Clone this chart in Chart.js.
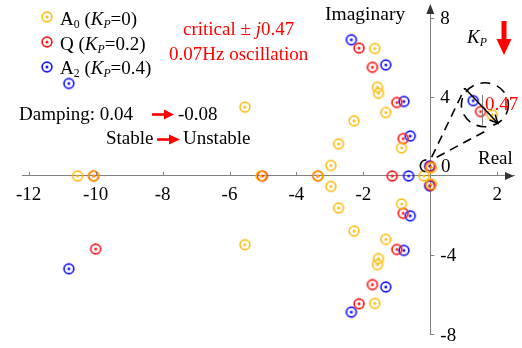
<!DOCTYPE html>
<html><head><meta charset="utf-8">
<script src="https://cdn.jsdelivr.net/npm/chart.js@4.4.0/dist/chart.umd.min.js"></script>
<style>
html,body{margin:0;padding:0;background:#fff;overflow:hidden;}
#wrap{position:relative;width:522px;height:348px;overflow:hidden;font-family:"Liberation Serif","Times New Roman",serif;}
#c{position:absolute;left:0;top:0;}
.t{position:absolute;font-size:19px;line-height:19px;white-space:nowrap;color:#000;}
.r{color:#ff0000;}
.sub{font-size:0.62em;position:relative;top:0.28em;}
svg{position:absolute;left:0;top:0;}
.mk{position:absolute;}
</style></head><body>
<div id="wrap">
<canvas id="c" width="522" height="348"></canvas>
<svg width="522" height="348">
  <line x1="152" y1="114.5" x2="166" y2="114.5" stroke="#ff0000" stroke-width="2.6"/>
  <polygon points="164,109.5 174,114.5 164,119.5" fill="#ff0000"/>
  <line x1="157" y1="139.5" x2="171" y2="139.5" stroke="#ff0000" stroke-width="2.6"/>
  <polygon points="169,134.5 180,139.5 169,144.5" fill="#ff0000"/>
  <rect x="501.5" y="21" width="5" height="20" fill="#ff0000"/>
  <polygon points="496.5,39 511.5,39 504,55" fill="#ff0000"/>
</svg>
<div class="t" style="left:60px;top:9px">A<span class="sub">0</span> (<i>K<span class="sub">P</span></i>=0)</div>
<div class="t" style="left:60px;top:34px">Q (<i>K<span class="sub">P</span></i>=0.2)</div>
<div class="t" style="left:60px;top:58px">A<span class="sub">2</span> (<i>K<span class="sub">P</span></i>=0.4)</div>
<div class="t r" style="left:183px;top:19px">critical ± <i>j</i>0.47</div>
<div class="t r" style="left:169px;top:44px">0.07Hz oscillation</div>
<div class="t" style="left:325px;top:3.5px;font-size:19.5px">Imaginary</div>
<div class="t" style="left:467px;top:27px"><i>K<span class="sub">P</span></i></div>
<div class="t" style="left:19px;top:103.5px">Damping: 0.04</div>
<div class="t" style="left:178px;top:103.5px">-0.08</div>
<div class="t" style="left:106px;top:128px">Stable</div>
<div class="t" style="left:183px;top:128px">Unstable</div>
<div class="t" style="left:478px;top:148px">Real</div>
<div class="t" style="left:441px;top:156px">0</div>
<div class="t r" style="left:485px;top:93.5px">0.47</div>
</div>
<script>
// ---- data (real / imaginary parts of eigenvalues) ----
const A0_re = [-1.66,-1.66,-1.58,-1.58,-1.55,-1.55,-1.33,-1.33,-2.28,-2.28,-2.74,-2.74,-0.86,-0.86,-2.97,-2.97,-5.54,-5.54,0.03,0.03,-10.54,-10.06,-5.06,-3.36,-0.19];
const A0_im = [6.45,-6.45,4.49,-4.49,4.18,-4.18,3.21,-3.21,2.79,-2.79,1.62,-1.62,1.42,-1.42,0.53,-0.53,3.48,-3.48,0.42,-0.42,0,0,0,0,0];
const Q_re  = [-2.13,-2.13,-1.73,-1.73,-1.00,-1.00,-0.81,-0.81,0.00,0.00,-10.0,-1.14,-5.02,-10.06,-3.36];
const Q_im  = [6.47,-6.47,5.50,-5.50,3.72,-3.72,1.89,-1.89,0.47,-0.47,-3.70,0,0,0,0];
const A2_re = [-2.36,-2.36,-1.33,-1.33,-0.79,-0.79,-0.60,-0.60,-0.02,-0.02,-10.8,-10.8,-0.65];
const A2_im = [6.89,-6.89,5.62,-5.62,3.77,-3.77,2.02,-2.02,0.50,-0.50,4.68,-4.70,0];
// magnified view of the critical pole (inset)
const insetA0 = [1.85, 3.09];
const insetQ  = [1.50, 3.26];
const insetA2 = [1.28, 3.81];
// ticks
const xTicks = [-12,-10,-8,-6,-4,-2,2];
const xTickLabels = ['-12','-10','-8','-6','-4','-2','2'];
const yTicks = [8,4,-4,-8];
const yTickLabels = ['8','4','-4','-8'];

const cA0 = 'rgba(255,184,0,0.9)', cQ = '#ff1a1a', cA2 = '#1a1aff';
function mk(color){
  const c=document.createElement('canvas'); c.width=c.height=14;
  const g=c.getContext('2d');
  g.strokeStyle=color; g.lineWidth=1.7;
  g.beginPath(); g.arc(7,7,4.9,0,Math.PI*2); g.stroke();
  g.fillStyle=color; g.beginPath(); g.arc(7,7,1.5,0,Math.PI*2); g.fill();
  return c;
}
const imA0=mk(cA0), imQ=mk(cQ), imA2=mk(cA2);
// legend markers
[[imA0,17],[imQ,42],[imA2,67]].forEach(([im,y])=>{
  const i=document.createElement('img'); i.src=im.toDataURL(); i.className='mk';
  i.style.left=(47-7)+'px'; i.style.top=(y-7)+'px';
  document.getElementById('wrap').appendChild(i);
});
const pts=(re,im)=>re.map((x,i)=>({x,y:im[i]}));
function ds(data,img,order){return {data,pointStyle:img,pointRadius:7,pointHoverRadius:7,showLine:false,clip:false,order};}

const deco = {
  id:'deco',
  afterDraw(chart){
    const ctx=chart.ctx, xs=chart.scales.x, ys=chart.scales.y;
    const X=v=>xs.getPixelForValue(v), Y=v=>ys.getPixelForValue(v);
    const x0=X(0), y0=Y(0), ca=chart.chartArea;
    ctx.save();
    // ticks (pointing inward)
    ctx.strokeStyle='#808080'; ctx.lineWidth=1;
    xTicks.forEach(v=>{ctx.beginPath();ctx.moveTo(Math.round(X(v))+0.5,y0);ctx.lineTo(Math.round(X(v))+0.5,y0-4);ctx.stroke();});
    yTicks.forEach(v=>{ctx.beginPath();ctx.moveTo(x0,Math.round(Y(v))+0.5);ctx.lineTo(x0+4,Math.round(Y(v))+0.5);ctx.stroke();});
    // arrowheads
    ctx.fillStyle='#333';
    ctx.beginPath();ctx.moveTo(ca.right,y0);ctx.lineTo(ca.right-9,y0-4);ctx.lineTo(ca.right-9,y0+4);ctx.closePath();ctx.fill();
    ctx.beginPath();ctx.moveTo(x0,ca.top-4);ctx.lineTo(x0-4,ca.top+6);ctx.lineTo(x0+4,ca.top+6);ctx.closePath();ctx.fill();
    // tick labels
    ctx.fillStyle='#000'; ctx.font='19px "Liberation Serif"';
    ctx.textAlign='center'; ctx.textBaseline='alphabetic';
    xTicks.forEach((v,i)=>ctx.fillText(xTickLabels[i],X(v),200));
    ctx.textAlign='left';
    yTicks.forEach((v,i)=>ctx.fillText(yTickLabels[i],x0+10,Y(v)+6.5));
    // magnifier
    ctx.strokeStyle='#000'; ctx.lineWidth=1.6;
    ctx.beginPath(); ctx.arc(X(-0.12),Y(0.51),6,0.55*Math.PI,1.5*Math.PI); ctx.stroke();
    ctx.setLineDash([9,6]);
    ctx.beginPath(); ctx.moveTo(X(0.04),Y(0.95)); ctx.lineTo(X(1.03),Y(4.44)); ctx.stroke();
    ctx.beginPath(); ctx.moveTo(X(0.19),Y(0.95)); ctx.lineTo(X(1.63),Y(2.25)); ctx.stroke();
    ctx.setLineDash([10,7]);
    ctx.beginPath(); ctx.ellipse(X(1.63),Y(3.6),23.5,22,0,0,Math.PI*2); ctx.stroke();
    ctx.setLineDash([]);
    ctx.strokeStyle='#808080'; ctx.lineWidth=1;
    ctx.beginPath(); ctx.moveTo(Math.round(X(1.53))+0.5,Y(4.1)); ctx.lineTo(Math.round(X(1.53))+0.5,Y(2.58)); ctx.stroke();
    // trajectory arrow
    ctx.strokeStyle='#000'; ctx.lineWidth=1.5;
    const ax=X(1.03),ay=Y(4.44),bx=X(2.02),by=Y(2.67);
    ctx.beginPath(); ctx.moveTo(ax,ay); ctx.lineTo(bx,by); ctx.stroke();
    const ang=Math.atan2(by-ay,bx-ax);
    ctx.beginPath();
    ctx.moveTo(bx-9*Math.cos(ang-0.45),by-9*Math.sin(ang-0.45)); ctx.lineTo(bx,by);
    ctx.lineTo(bx-9*Math.cos(ang+0.45),by-9*Math.sin(ang+0.45)); ctx.stroke();
    ctx.restore();
  }
};

new Chart(document.getElementById('c'),{
  type:'scatter',
  data:{datasets:[
    ds(pts(A0_re,A0_im),imA0,1),
    ds(pts(Q_re,Q_im),imQ,2),
    ds(pts(A2_re,A2_im),imA2,3),
    ds([{x:insetA2[0],y:insetA2[1]}],imA2,3),
    ds([{x:insetQ[0],y:insetQ[1]}],imQ,2),
    ds([{x:insetA0[0],y:insetA0[1]}],imA0,1)
  ]},
  options:{
    responsive:false, animation:false, events:[],
    layout:{padding:{left:22,right:6,top:8,bottom:14}},
    plugins:{legend:{display:false},tooltip:{enabled:false}},
    scales:{
      x:{type:'linear',min:-12.2,max:2.5,position:{y:0},grid:{display:false},
         border:{display:true,color:'#808080',width:1},ticks:{display:false}},
      y:{type:'linear',min:-8,max:8.5,position:{x:0},grid:{display:false},
         border:{display:true,color:'#808080',width:1},ticks:{display:false}}
    }
  },
  plugins:[deco]
});
</script>
</body></html>
